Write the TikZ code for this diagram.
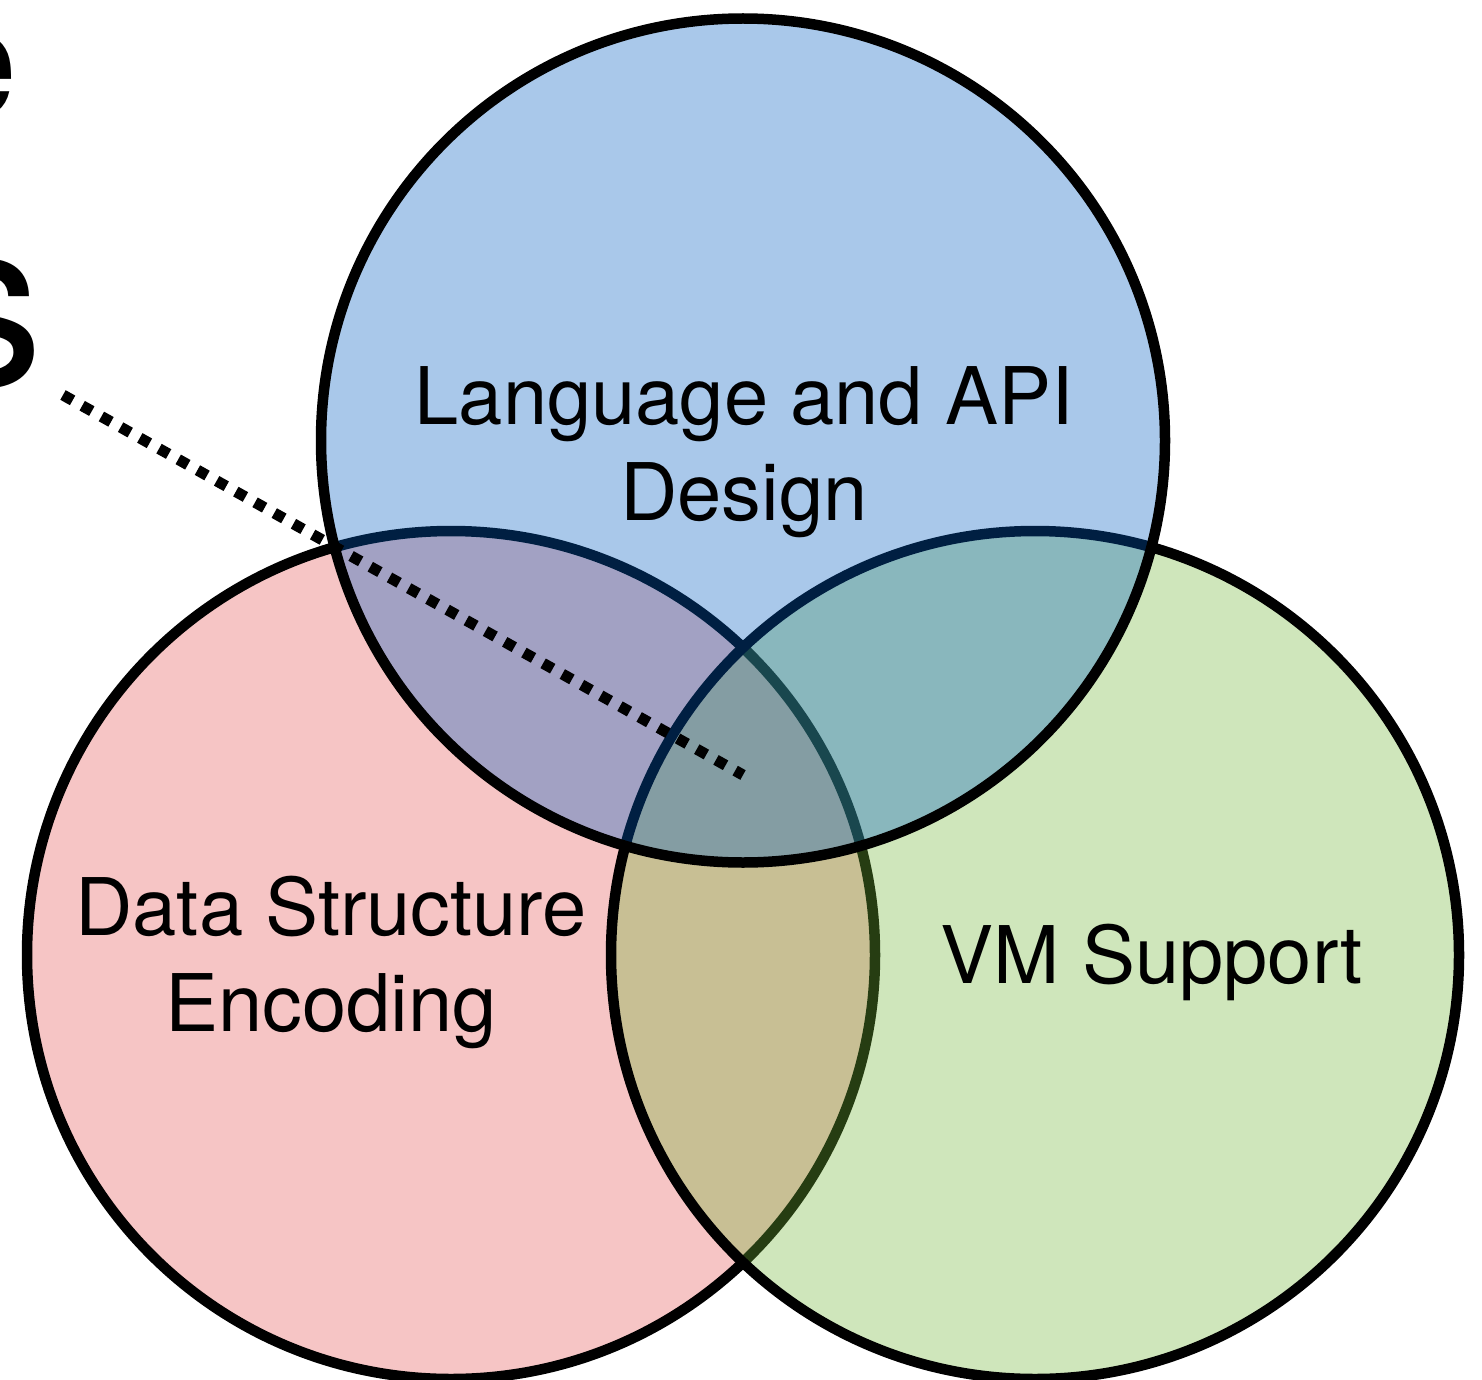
\documentclass[tikz,border=0pt]{standalone}
\usepackage{fontspec}
\setmainfont{TeX Gyre Heros}
\definecolor{encred}{RGB}{246,197,197}
\definecolor{vmgreen}{RGB}{114,181,55}
\definecolor{apiblue}{RGB}{2,93,194}
\begin{document}
\begin{tikzpicture}[x=1pt, y=-1pt,
  ring/.style={circle, draw=black, line width=10.5pt, minimum size=#1, inner sep=0pt, outer sep=0pt},
  setlabel/.style={font=\fontsize{79.5}{96}\selectfont, align=center, inner sep=0pt, anchor=base},
  pointer/.style={draw=black, line width=11pt, dash pattern=on 11pt off 11pt}
]
\useasboundingbox (0,0) rectangle (1482,1380);

% title fragments running off the left edge
\node[font=\fontsize{156}{156}\selectfont, inner sep=0pt, anchor=base east] (titleA) at (18,117) {e};
\node[font=\fontsize{235}{235}\selectfont, inner sep=0pt, anchor=base east] (titleB) at (44,385) {s};

% the three sets, drawn bottom to top
\node[ring=848pt, fill=encred] (enc) at (451,955) {};
\node[ring=848pt, fill=vmgreen, fill opacity=0.34] (vm) at (1035,955) {};
\node[ring=844pt, fill=apiblue, fill opacity=0.34] (api) at (743,440.5) {};

% set labels (anchored on the baseline of the last line)
\node[setlabel] (apiL) at (744,520) {Language and API\\Design};
\node[setlabel] (encL) at (331,1031) {Data Structure\\Encoding};
\node[setlabel] (vmL) at (1152,983) {VM Support};

% pointer into the common region
\coordinate (ptrStart) at (63,395);
\coordinate (ptrEnd) at (743,775);
\draw[pointer] (ptrStart) -- (ptrEnd);
\end{tikzpicture}
\end{document}
